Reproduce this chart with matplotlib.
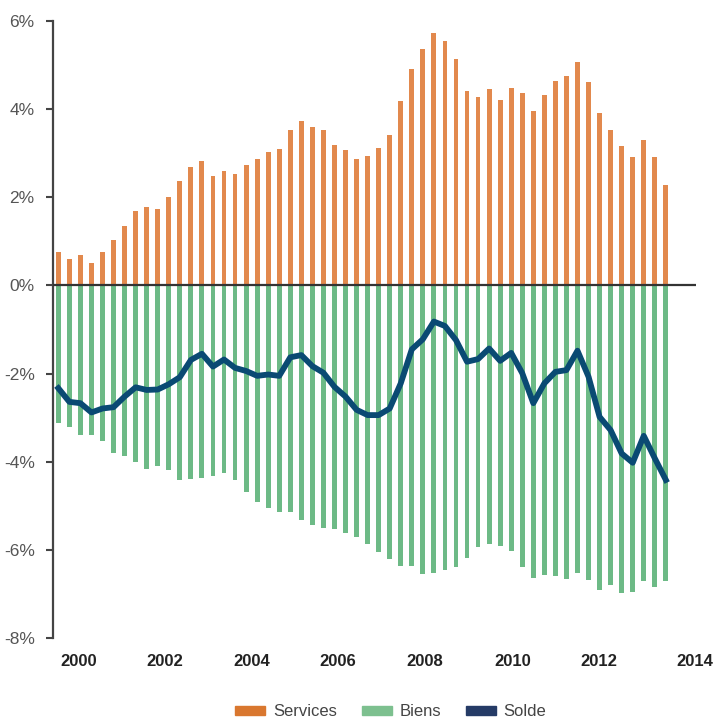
import numpy as np
import matplotlib
matplotlib.use("Agg")
import matplotlib.pyplot as plt
from matplotlib.patches import Patch

plt.rcParams['font.family'] = ['Liberation Sans Narrow', 'Liberation Sans', 'DejaVu Sans']

# quarterly shares, in % (2000 Q1 .. 2013 Q4)
services = [0.76, 0.59, 0.70, 0.51, 0.75, 1.04, 1.35, 1.69, 1.77, 1.74,
            2.00, 2.36, 2.69, 2.82, 2.49, 2.59, 2.53, 2.74, 2.86, 3.03,
            3.09, 3.53, 3.73, 3.59, 3.53, 3.18, 3.06, 2.86, 2.94, 3.12,
            3.41, 4.17, 4.91, 5.35, 5.73, 5.53, 5.13, 4.41, 4.27, 4.45,
            4.20, 4.48, 4.36, 3.95, 4.31, 4.63, 4.74, 5.06, 4.62, 3.91,
            3.52, 3.15, 2.90, 3.29, 2.91, 2.28]
biens = [-3.11, -3.21, -3.38, -3.38, -3.52, -3.79, -3.87, -4.01, -4.16, -4.10,
         -4.19, -4.40, -4.38, -4.37, -4.31, -4.25, -4.40, -4.68, -4.90, -5.05,
         -5.14, -5.14, -5.31, -5.42, -5.51, -5.53, -5.61, -5.70, -5.87, -6.05,
         -6.20, -6.35, -6.36, -6.55, -6.53, -6.46, -6.39, -6.17, -5.94, -5.86,
         -5.91, -6.02, -6.38, -6.63, -6.57, -6.58, -6.66, -6.53, -6.68, -6.90,
         -6.80, -6.98, -6.95, -6.71, -6.84, -6.69]
solde = [-2.33, -2.64, -2.67, -2.88, -2.79, -2.76, -2.52, -2.31, -2.37, -2.36,
         -2.24, -2.08, -1.69, -1.55, -1.84, -1.68, -1.87, -1.94, -2.05, -2.02,
         -2.05, -1.63, -1.58, -1.83, -1.98, -2.30, -2.52, -2.82, -2.94, -2.94,
         -2.79, -2.22, -1.45, -1.22, -0.82, -0.92, -1.24, -1.73, -1.67, -1.43,
         -1.71, -1.53, -1.99, -2.67, -2.22, -1.96, -1.92, -1.48, -2.07, -2.98,
         -3.28, -3.81, -4.02, -3.41, -3.92, -4.41]
year_labels = ['2000', '2002', '2004', '2006', '2008', '2010', '2012', '2014']
year_pos = [1.81, 9.66, 17.5, 25.3, 33.2, 41.1, 48.9, 57.6]

c_serv = '#E2894D'
c_bien = '#6DBA86'
c_solde = '#0A4A73'

x = np.arange(len(services))

fig = plt.figure(figsize=(7.13, 7.19), dpi=100)
ax = fig.add_axes([0.0739, 0.1122, 0.9018, 0.859])

ax.bar(x, services, width=0.44, color=c_serv, zorder=2)
ax.bar(x, biens, width=0.44, color=c_bien, zorder=2)
ax.plot(x, solde, color=c_solde, lw=4.2, solid_joinstyle='round', zorder=4)
ax.axhline(0, color='#333333', lw=1.6, zorder=5)

ax.set_xlim(-0.51, 57.7)
ax.set_ylim(-8, 6)

ax.set_yticks(np.arange(-8, 7, 2))
ax.set_yticklabels([f'{v}%' for v in range(-8, 7, 2)], color='#555555', fontsize=12.5)
ax.set_xticks(year_pos)
ax.set_xticklabels(year_labels, fontsize=12, fontweight='bold', color='#222222')
ax.tick_params(axis='x', length=0, pad=11)
ax.tick_params(axis='y', length=5, width=1.5, color='#444444', pad=8)

for s in ['top', 'right', 'bottom']:
    ax.spines[s].set_visible(False)
ax.spines['left'].set_color('#444444')
ax.spines['left'].set_linewidth(1.6)

handles = [Patch(color='#D9772F', label='Services'),
           Patch(color='#7DC08F', label='Biens'),
           Patch(color='#253B66', label='Solde')]
fig.legend(handles=handles, loc='center', bbox_to_anchor=(0.548, 0.01), ncol=3,
           frameon=False, fontsize=12, handlelength=1.8, handleheight=0.4,
           handletextpad=0.45, columnspacing=1.5, labelcolor='#444444')

fig.savefig('out.png', dpi=100)
